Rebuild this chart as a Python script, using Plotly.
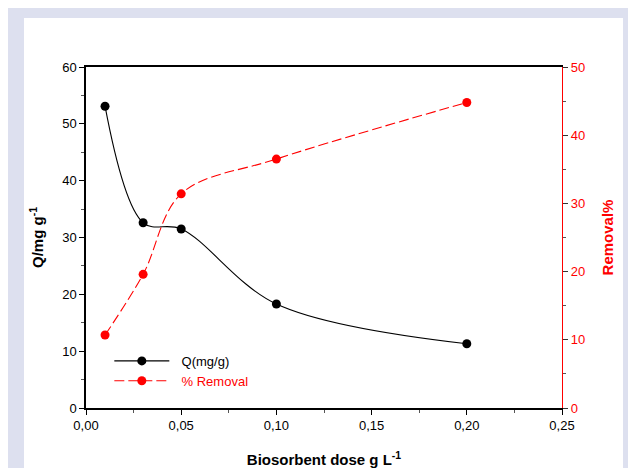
import plotly.graph_objects as go

dose = [0.01, 0.03, 0.05, 0.10, 0.20]
q_mg_g = [53.1, 32.6, 31.5, 18.3, 11.3]
removal_pct = [10.7, 19.6, 31.4, 36.5, 44.8]

x_ticks = [0.0, 0.05, 0.10, 0.15, 0.20, 0.25]

FONT = "Liberation Sans, Arial, sans-serif"
RED = "#ff0000"
SP = "\u00a0\u00a0"

fig = go.Figure()
fig.add_trace(go.Scatter(
    x=dose, y=q_mg_g, name=SP + "Q(mg/g)", mode="lines+markers",
    line=dict(color="black", width=1.1, shape="spline", smoothing=1),
    marker=dict(color="black", size=9),
))
fig.add_trace(go.Scatter(
    x=dose, y=removal_pct, name=SP + "<span style='color:#ff0000'>% Removal</span>",
    mode="lines+markers", yaxis="y2",
    line=dict(color=RED, width=1.1, shape="spline", smoothing=1, dash="10px,4px"),
    marker=dict(color=RED, size=9),
))

L, R, T, B = 78, 554, 59, 400
PW, PH = R - L, B - T

fig.update_layout(
    width=636, height=468,
    margin=dict(l=L, r=636 - R, t=T, b=468 - B, autoexpand=False),
    paper_bgcolor="#dde0ef", plot_bgcolor="white",
    separators=",.",
    font=dict(family=FONT, size=13, color="black"),
    showlegend=True,
    legend=dict(x=0.049, y=0.182, xanchor="left", yanchor="top",
                bgcolor="rgba(0,0,0,0)", font=dict(size=13), itemwidth=55,
                tracegroupgap=0),
    xaxis=dict(
        range=[0, 0.25], tickvals=x_ticks, tickformat=".2f", automargin=False,
        showline=True, linecolor="black", linewidth=1.5, mirror=True,
        ticks="outside", ticklen=5, tickcolor="black",
        minor=dict(ticks="outside", dtick=0.025, ticklen=3, tickcolor="#555"),
        showgrid=False, zeroline=False,
        title=dict(text="<b>Biosorbent dose g L<sup>-1</sup></b>", font=dict(size=15), standoff=22),
    ),
    yaxis=dict(
        range=[0, 60], dtick=10, automargin=False,
        showline=True, linecolor="black", linewidth=1.5,
        ticks="outside", ticklen=5, tickcolor="black",
        minor=dict(ticks="outside", dtick=5, ticklen=3, tickcolor="#555"),
        showgrid=False, zeroline=False,
        title=dict(text="<b>Q/mg g<sup>-1</sup></b>", font=dict(size=15), standoff=15),
    ),
    yaxis2=dict(
        range=[0, 50], dtick=10, overlaying="y", side="right", automargin=False,
        showline=True, linecolor=RED, linewidth=1.2,
        ticks="outside", ticklen=5, tickcolor="#333",
        minor=dict(ticks="outside", dtick=5, ticklen=3, tickcolor="#555"),
        tickfont=dict(color=RED),
        showgrid=False, zeroline=False,
        title=dict(text="<b>Removal%</b>", font=dict(size=15, color=RED), standoff=18),
    ),
    shapes=[dict(type="rect", xref="paper", yref="paper",
                 x0=(16 - L) / PW, x1=(615 - L) / PW,
                 y0=-0.3, y1=(B - 10) / PH,
                 fillcolor="white", line=dict(width=0), layer="below")],
)

fig.write_html("out.html")
